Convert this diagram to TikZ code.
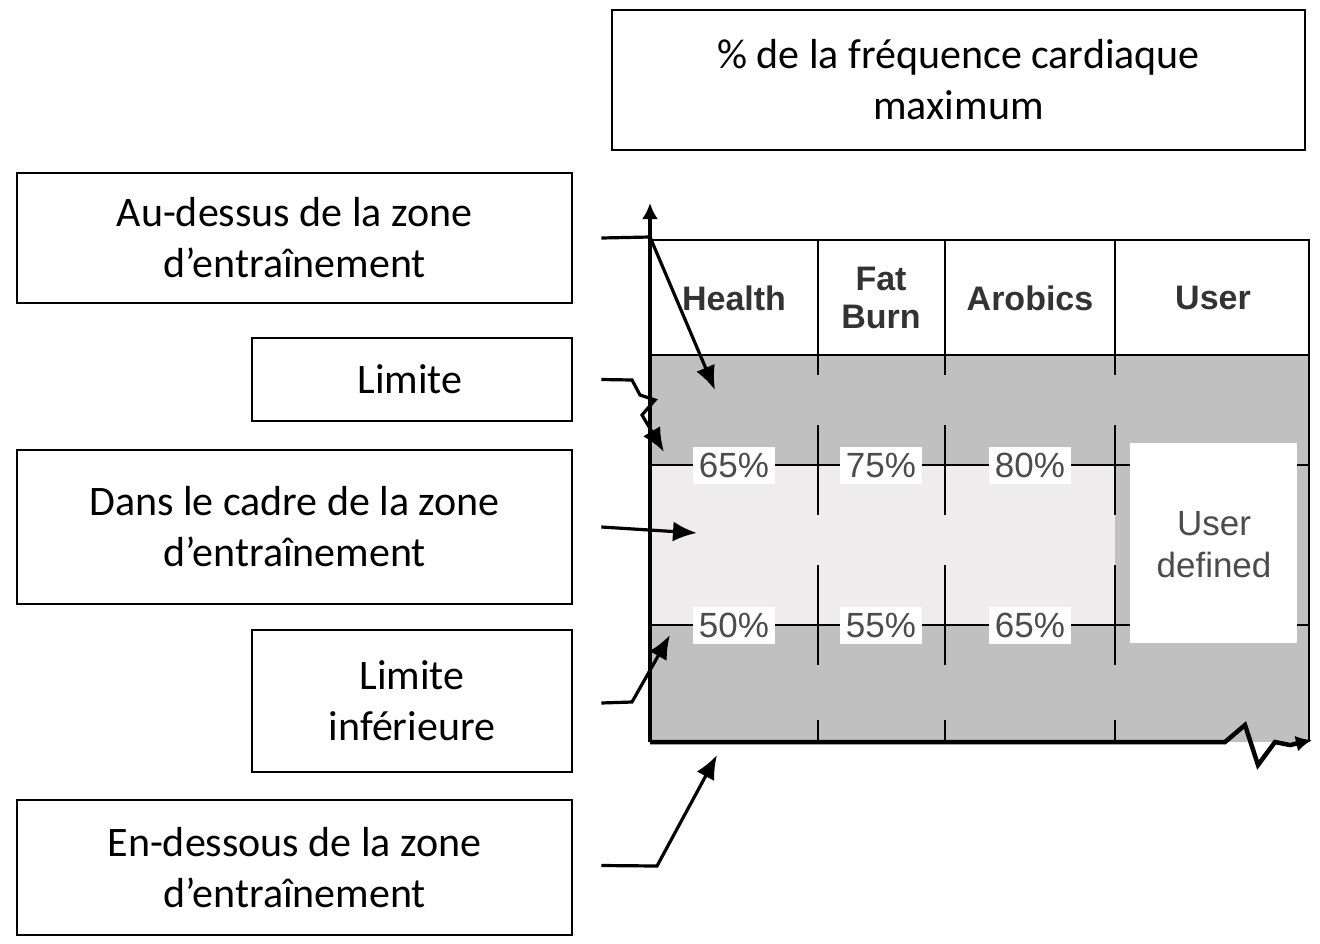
\documentclass[tikz,border=0pt]{standalone}
\usepackage{fontspec}
\setmainfont{Carlito}
\newfontfamily\chartfont{Liberation Sans}
\usetikzlibrary{arrows.meta,positioning}
\definecolor{zonegray}{RGB}{192,192,192}
\definecolor{zonelight}{RGB}{238,236,237}
\begin{document}
\begin{tikzpicture}[>={Latex[length=24pt,width=20pt]},x=1pt,y=-1pt]
			\tikzset{label box/.style= {draw, line width=2.6pt, rectangle, align=center,inner sep=0pt,font=\fontsize{42}{51}\selectfont},
				head/.style={font=\chartfont\bfseries\fontsize{34}{38}\selectfont,align=center,text=black!80},
				pct/.style={fill=white,inner xsep=0pt,inner ysep=6pt,minimum width=82pt,text height=25pt,text depth=0pt,font=\chartfont\fontsize{35}{35}\selectfont,text=black!70},
				pointer/.style={draw, ->, line width=3.2pt}
			}
			\useasboundingbox (0,0) rectangle (1320,943);
			% zones
			\fill[zonegray] (650,355) rectangle (1309,742);
			\fill[zonelight] (650,465) rectangle (1115,625);
			\draw[line width=2pt] (650,240) rectangle (1309,355);
			\draw[line width=2pt] (1309,355) -- (1309,742);
			\foreach \x in {818,945,1115}{
				\draw[line width=2pt] (\x,240) -- (\x,355);
				\draw[line width=2pt] (\x,355) -- (\x,375) (\x,425) -- (\x,515) (\x,565) -- (\x,665) (\x,720) -- (\x,742);
			}
			\draw[line width=2pt] (650,465) -- (1309,465) (650,625) -- (1309,625);
			\node[fill=white,minimum width=167pt,minimum height=200pt,inner sep=0pt] (userdef) at (1213,543) {};
			\node[font=\chartfont\fontsize{35}{42}\selectfont,align=center,text=black!70] (usertext) at (1214,545) {User\\defined};
			% headings
			\node[head] (health) at (734,298) {Health};
			\node[head] (fatburn) at (881,298) {Fat\\Burn};
			\node[head] (arobics) at (1030,298) {Arobics};
			\node[head] (user) at (1213,298) {User};
			% percentages
			\node[pct] (h65) at (734,465) {65\%};
			\node[pct] (f75) at (881,465) {75\%};
			\node[pct] (a80) at (1030,465) {80\%};
			\node[pct] (h50) at (734,625) {50\%};
			\node[pct] (f55) at (881,625) {55\%};
			\node[pct] (a65) at (1030,625) {65\%};
			% axes
			\draw[line width=4.5pt, -{Latex[length=16pt,width=16pt]}] (650,742) -- (650,203);
			\draw[line width=4.5pt, -{Latex[length=16pt,width=16pt]}] (650,742) -- (1225,742) -- (1245,725) -- (1258,765) -- (1275,742) -- (1290,745) -- (1312,740);
			% boxes
			\node[label box, minimum width=555pt, minimum height=130pt] (above) at (294.5,238) {Au-dessus de la zone\\d’entraînement};
			\node[label box, minimum width=320pt, minimum height=83pt] (limit) at (412,379.5) {\hspace*{-4pt}Limite};
			\node[label box, minimum width=555pt, minimum height=154pt] (within) at (294.5,527) {Dans le cadre de la zone\\d’entraînement};
			\node[label box, minimum width=320pt, minimum height=142pt] (lower) at (412,701) {Limite\\inférieure};
			\node[label box, minimum width=555pt, minimum height=135pt] (below) at (294.5,867.5) {En-dessous de la zone\\d’entraînement};
			\node[label box, minimum width=693pt, minimum height=140pt] (title) at (958.5,80) {\% de la fréquence cardiaque\\maximum};
			% pointers
			\coordinate (aboveEnd) at (715,390);
			\coordinate (limitEnd) at (664,452);
			\coordinate (withinEnd) at (697,533);
			\coordinate (lowerEnd) at (670,635);
			\coordinate (belowEnd) at (717,755);
			\path[pointer] (above.east) ++(28,0) -- (650,237) -- (aboveEnd);
			\path[pointer] (limit.east) ++(28,0) -- (632,380) -- (640,395) -- (655,400) -- (642,415) -- (limitEnd);
			\path[pointer] (within.east) ++(28,0) -- (withinEnd);
			\path[pointer] (lower.east) ++(28,2) -- (632,702) -- (lowerEnd);
			\path[pointer] (below.east) ++(28,-2) -- (657,866) -- (belowEnd);
		\end{tikzpicture}
\end{document}
